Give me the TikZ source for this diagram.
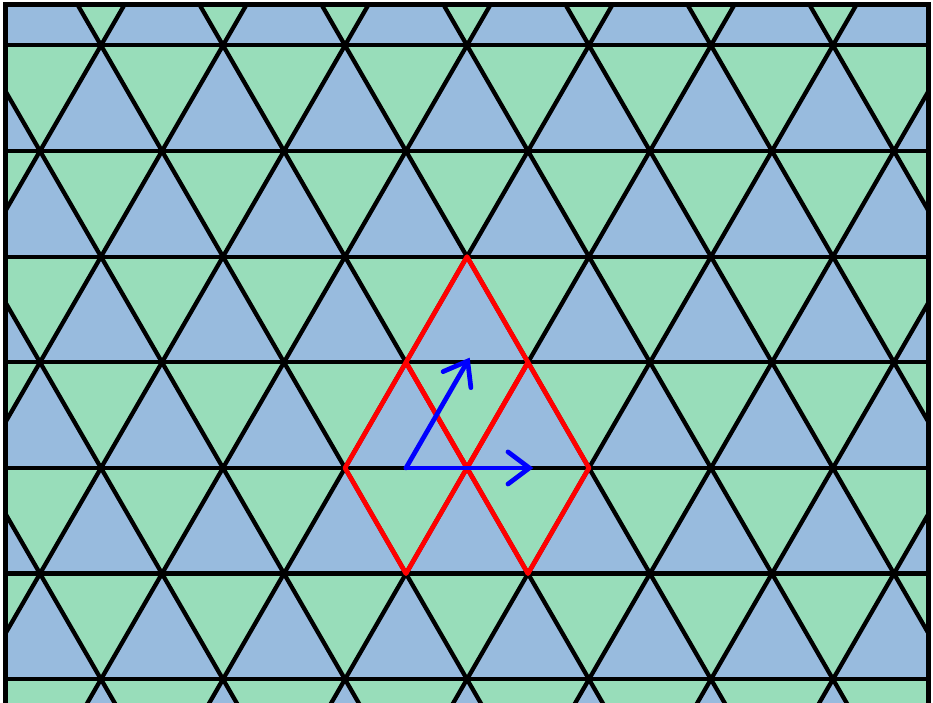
\documentclass[tikz,border=0pt]{standalone}
\usetikzlibrary{arrows.meta}
\definecolor{verde}{RGB}{152,221,186}
\definecolor{blu}{RGB}{152,187,222}
\begin{document}
\begin{tikzpicture}[scale=2,
        lato/.style={line width=2pt, black},
        rombo/.style={line width=2.2pt, red, line join=round},
        vettore/.style={line width=2.2pt, blue, line cap=round, shorten >=-2.5pt,
            -{Straight Barb[length=10pt, width=15pt, line cap=round]}}]
        % altezza di un triangolo di lato 1
        \def\h{0.8660254}
        \useasboundingbox (-3.828,-1.926) rectangle (3.820,3.836);

        % --- Reticolo triangolare ---
        \begin{scope}
        \clip (-3.783,-2.5) rectangle (3.783,3.798);
        \fill[verde] (-4,-3) rectangle (4,4);
        % triangoli con la punta in alto
        \foreach \j in {-3,...,4}
            \foreach \i in {-8,...,8}
                \fill[blu] ({\i+\j/2},{\j*\h}) -- ++(1,0) -- ++(-0.5,\h) -- cycle;
        % lati del reticolo
        \foreach \j in {-3,...,5}
            \draw[lato] (-4,{\j*\h}) -- (4,{\j*\h});
        \foreach \i in {-8,...,8} {
            \draw[lato] ({\i-1.5},{-3*\h}) -- ({\i+2.5},{5*\h});
            \draw[lato] ({\i+1.5},{-3*\h}) -- ({\i-2.5},{5*\h});
        }
        \end{scope}
        % cornice
        \draw[lato] (-3.783,-2.5) rectangle (3.783,3.798);

        % --- Celle unitarie (rombi) ---
        \coordinate (T) at (0,{2*\h});
        \coordinate (NO) at (-0.5,\h);
        \coordinate (NE) at (0.5,\h);
        \coordinate (C) at (0,0);
        \coordinate (W) at (-1,0);
        \coordinate (E) at (1,0);
        \coordinate (SO) at (-0.5,-\h);
        \coordinate (SE) at (0.5,-\h);

        \draw[rombo] (T) -- (NE) -- (C) -- (NO) -- cycle;
        \draw[rombo] (NO) -- (C) -- (SO) -- (W) -- cycle;
        \draw[rombo] (NE) -- (E) -- (SE) -- (C) -- cycle;

        % --- Vettori di base ---
        \coordinate (P) at (-0.5,0);
        \coordinate (A1) at (0.5,0);
        \coordinate (A2) at (0,\h);
        \draw[vettore] (P) -- (A1);
        \draw[vettore] (P) -- (A2);
\end{tikzpicture}
\end{document}
